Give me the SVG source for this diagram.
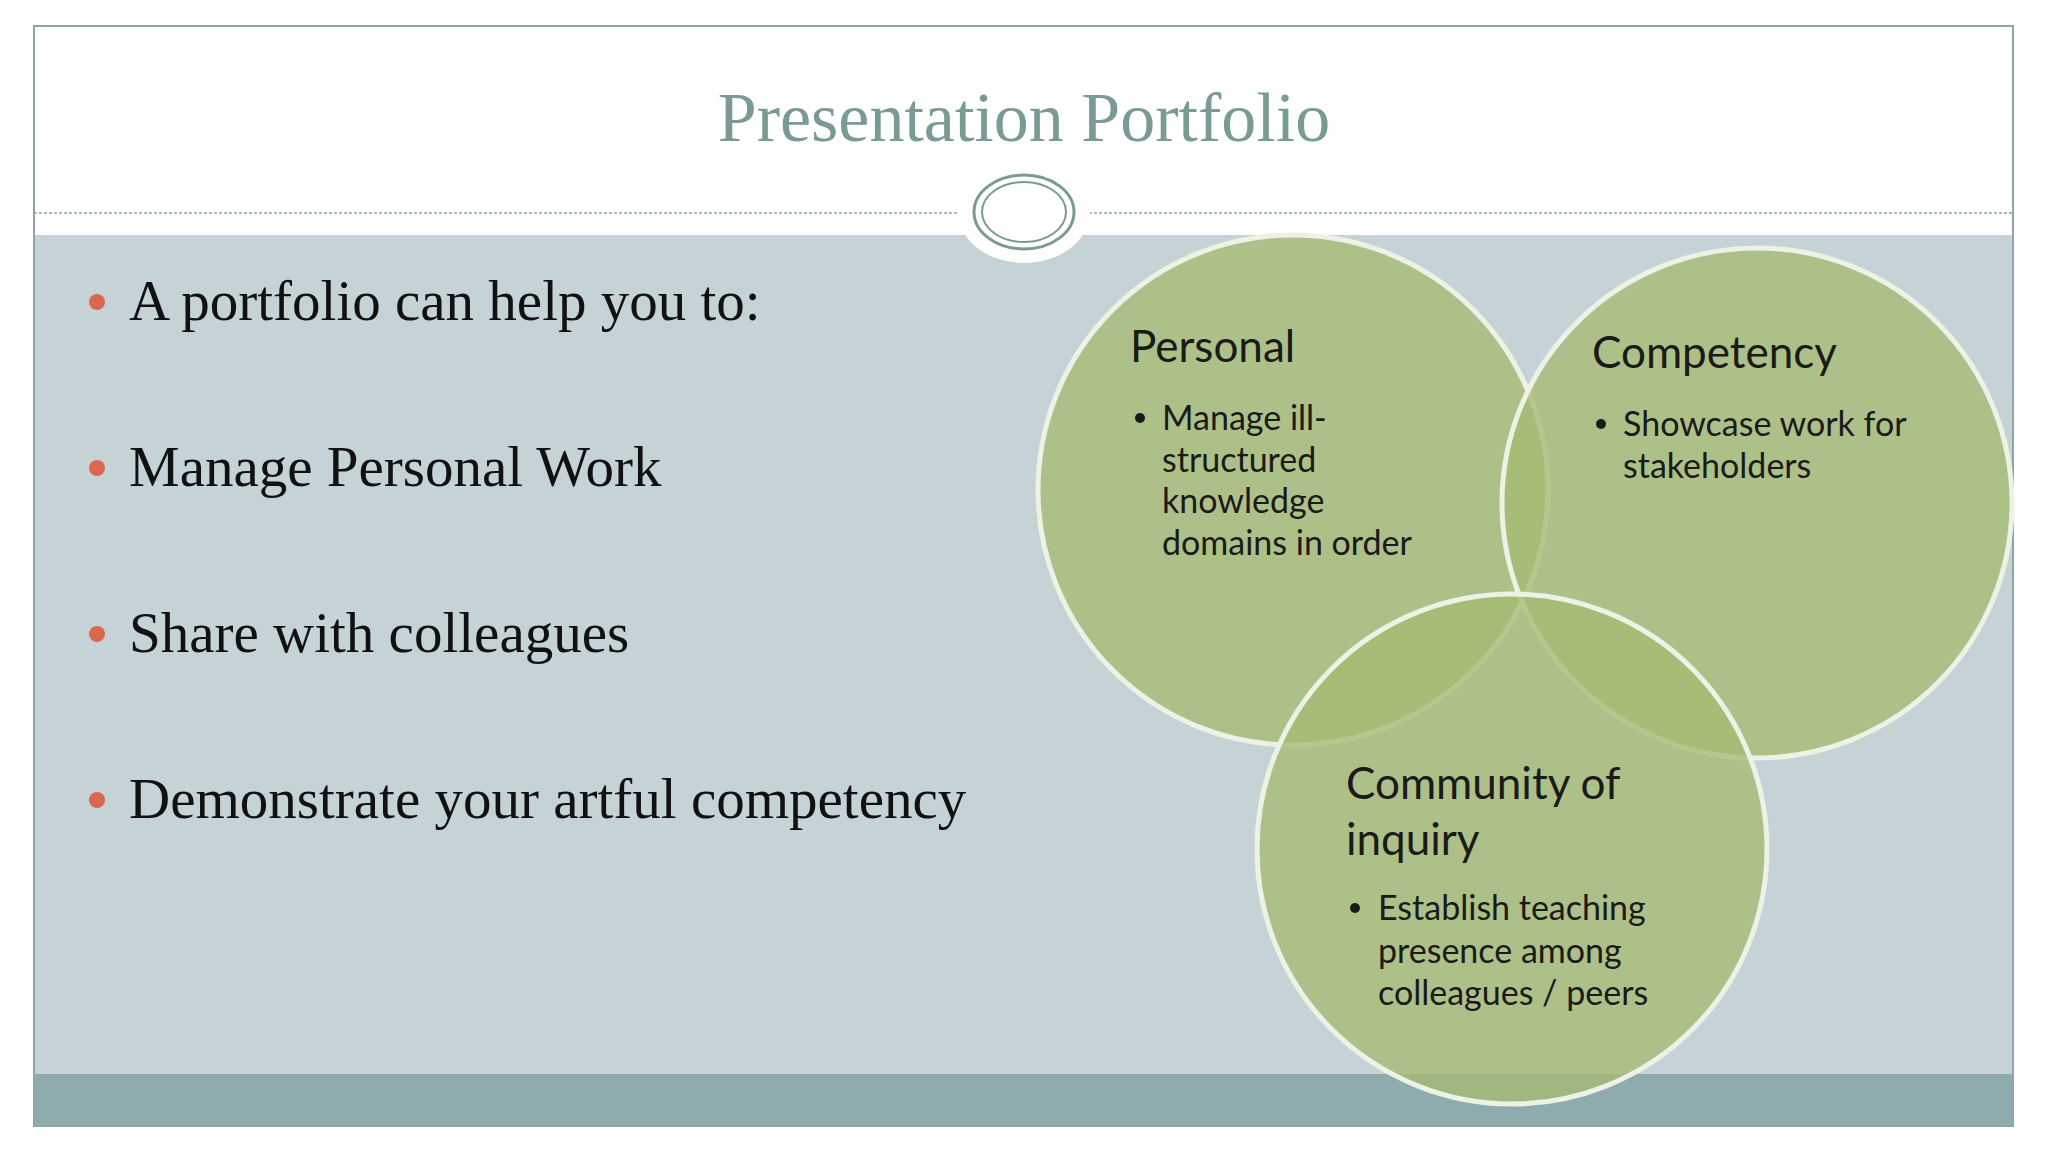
<svg xmlns="http://www.w3.org/2000/svg" width="2048" height="1152" viewBox="0 0 2048 1152">
<style>
.t{font-family:"Liberation Serif",serif;fill:#111}
.b{font-size:57px}
.c{font-family:Lato,"Open Sans",sans-serif;fill:#1a1a1a}
.h{font-size:44px}
.s{font-size:34px}
.circ{fill:#a5bb72;fill-opacity:0.78;stroke:#eef1e6;stroke-width:5}
</style>
<rect width="2048" height="1152" fill="#fff"/>
<rect x="34" y="235" width="1979" height="839" fill="#c6d3d6"/>
<rect x="34" y="1074" width="1979" height="52" fill="#8eabad"/>
<rect x="34" y="26" width="1979" height="1100" fill="none" stroke="#8fa6a6" stroke-width="2"/>
<line x1="34" y1="213" x2="2013" y2="213" stroke="#8fa6a6" stroke-width="1.5" stroke-dasharray="3,2"/>
<ellipse cx="1024" cy="212" rx="66" ry="51" fill="#fff"/>
<ellipse cx="1024" cy="212" rx="50" ry="37" fill="none" stroke="#7a9a95" stroke-width="3"/>
<ellipse cx="1024" cy="212" rx="42" ry="30" fill="none" stroke="#7a9a95" stroke-width="2"/>
<text x="1024" y="141" text-anchor="middle" font-family="Liberation Serif,serif" font-size="70" fill="#7a9a95">Presentation Portfolio</text>
<g id="bullets">
<g fill="#d9684e"><circle cx="97" cy="302" r="8"/><circle cx="97" cy="468" r="8"/><circle cx="97" cy="634" r="8"/><circle cx="97" cy="800" r="8"/></g>
<text class="t b" x="129" y="320">A portfolio can help you to:</text>
<text class="t b" x="129" y="486">Manage Personal Work</text>
<text class="t b" x="129" y="652">Share with colleagues</text>
<text class="t b" x="129" y="818">Demonstrate your artful competency</text>
</g>
<g id="personal"><circle class="circ" cx="1293" cy="490" r="255"/></g>
<g id="competency"><circle class="circ" cx="1757" cy="503" r="255"/></g>
<g id="community"><circle class="circ" cx="1512" cy="849" r="255"/></g>
<g id="labels">
<text class="c h" x="1130" y="362">Personal</text>
<circle cx="1140" cy="418" r="5" fill="#1a1a1a"/>
<text class="c s" x="1162" y="430">Manage ill-</text>
<text class="c s" x="1162" y="472">structured</text>
<text class="c s" x="1162" y="513">knowledge</text>
<text class="c s" x="1162" y="555">domains in order</text>
<text class="c h" x="1592" y="368">Competency</text>
<circle cx="1601" cy="424" r="5" fill="#1a1a1a"/>
<text class="c s" x="1623" y="436">Showcase work for</text>
<text class="c s" x="1623" y="478">stakeholders</text>
<text class="c h" x="1346" y="799">Community of</text>
<text class="c h" x="1346" y="855">inquiry</text>
<circle cx="1355" cy="908" r="5" fill="#1a1a1a"/>
<text class="c s" x="1378" y="920">Establish teaching</text>
<text class="c s" x="1378" y="963">presence among</text>
<text class="c s" x="1378" y="1005">colleagues / peers</text>
</g>
<g id="connectors"/>
</svg>
